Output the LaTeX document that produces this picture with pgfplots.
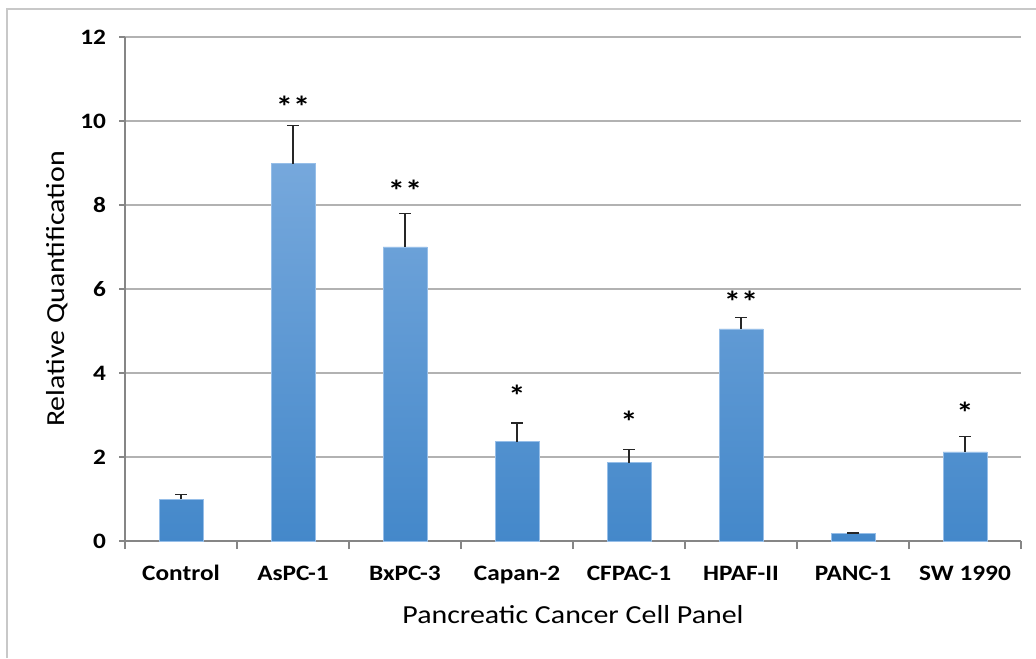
\documentclass[border=0pt]{standalone}
\usepackage{pgfplots}
\pgfplotsset{compat=1.18}
\usepackage{fontspec}
\setmainfont{Carlito}[FakeStretch=1.15]
\definecolor{gridc}{RGB}{178,178,178}
\definecolor{axisc}{RGB}{134,134,134}
\definecolor{framec}{RGB}{200,200,200}
\definecolor{bartop}{RGB}{118,168,220}
\definecolor{barmid}{RGB}{86,156,222}
\definecolor{barbot}{RGB}{68,136,202}
\definecolor{baredge}{RGB}{150,190,232}
\begin{document}
\begin{tikzpicture}
\useasboundingbox (0,0) rectangle (518pt,329pt);
\fill[white] (0,0) rectangle (518pt,329pt);
\draw[framec, line width=0.8pt] (3.5pt,0) -- (3.5pt,324.5pt) -- (518pt,324.5pt);
\begin{axis}[
  at={(62.5pt,58.5pt)}, anchor=south west,
  scale only axis, width=448pt, height=252pt,
  xmin=-0.5, xmax=7.5, ymin=0, ymax=12,
  axis lines*=left,
  axis line style={axisc, line width=0.6pt},
  ytick={0,2,...,12},
  ymajorgrids, grid style={gridc, line width=0.6pt},
  xtick={0,...,7},
  xticklabels={Control,AsPC-1,BxPC-3,Capan-2,CFPAC-1,HPAF-II,PANC-1,SW 1990},
  minor xtick={-0.5,0.5,...,7.5},
  major x tick style={draw=none},
  minor x tick style={axisc, line width=0.6pt},
  y tick style={axisc, line width=0.6pt},
  tick align=outside,
  major tick length=3pt, minor tick length=4pt,
  xticklabel style={font=\fontsize{11}{13}\selectfont\bfseries, anchor=base, yshift=-16.5pt},
  yticklabel style={font=\fontsize{11}{13}\selectfont\bfseries, anchor=east, xshift=-3pt},
  /pgf/number format/assume math mode=true,
  xlabel={Pancreatic Cancer Cell Panel},
  ylabel={Relative Quantification},
  xlabel style={font=\fontsize{13}{15}\selectfont, at={(axis description cs:0.5,0)}, anchor=base, yshift=-41pt},
  ylabel style={font=\fontsize{13}{15}\selectfont, at={(axis description cs:-0.076,0.5)}, anchor=center, rotate=0},
  clip=false,
]
\addplot[ybar, bar width=22pt, draw=baredge, line width=0.4pt,
  top color=bartop, middle color=barmid, bottom color=barbot,
  error bars/.cd, y dir=plus, y explicit,
  error bar style={black!85, line width=0.6pt},
  error mark options={rotate=90, mark size=3pt, black!85, line width=0.6pt}]
  table[x=x, y=y, y error=e] {
x y e
0 1.00 0.10
1 8.98 0.92
2 7.00 0.79
3 2.36 0.45
4 1.86 0.31
5 5.05 0.28
6 0.17 0.02
7 2.12 0.36
};
\addplot[draw=none, mark=none, nodes near coords, point meta=explicit symbolic,
  nodes near coords style={anchor=center, font=\fontsize{15}{17}\selectfont\bfseries, text=black}]
  table[x=x, y=y, meta=s] {
x y s
1 10.35 **
2 8.35 **
3 3.45 *
4 2.85 *
5 5.70 **
7 3.05 *
};
\end{axis}
\end{tikzpicture}
\end{document}
